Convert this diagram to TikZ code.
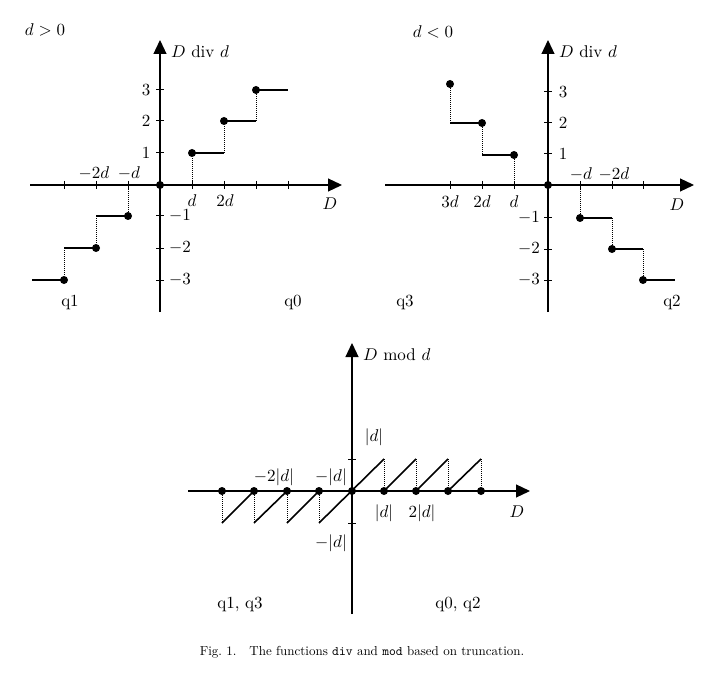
\documentclass[tikz,border=0pt]{standalone}
\usetikzlibrary{arrows.meta}
\begin{document}
\begin{tikzpicture}[x=1pt,y=-1pt,
  ax/.style={line width=1.2pt,-{Triangle[length=14pt,width=13pt]}},
  st/.style={line width=1.6pt},
  dt/.style={densely dotted,line width=1pt},
  dot/.style={circle,fill=black,inner sep=0pt,minimum size=8pt},
  lb/.style={scale=1.7,transform shape,inner sep=1pt},
  tk/.style={line width=1pt}]
\useasboundingbox (0,0) rectangle (720,679);
% ---------- top-left ----------
\coordinate (axl) at (30,185); \coordinate (axr) at (342,185);
\coordinate (ayb) at (160,312); \coordinate (ayt) at (160,40);
\draw[ax] (axl) -- (axr);
\draw[ax] (ayb) -- (ayt);
\foreach \x in {64,96,128,192,224,256,288} \draw[tk] (\x,181) -- (\x,189);
\foreach \y in {90,121,153,216,248,280} \draw[tk] (156,\y) -- (164,\y);
\node[lb] (t1) at (45,30) {$d>0$};
\node[lb,anchor=west] (t2) at (169,52) {$D$ div $d$};
\node[lb] at (146,90) {3}; \node[lb] at (146,121) {2}; \node[lb] at (146,153) {1};
\node[lb] at (180,216) {$-1$}; \node[lb] at (180,248) {$-2$}; \node[lb] at (180,280) {$-3$};
\node[lb] at (94,173) {$-2d$}; \node[lb] at (129,173) {$-d$};
\node[lb] at (192,201) {$d$}; \node[lb] at (225,201) {$2d$};
\node[lb] at (330,204) {$D$};
\node[lb] at (70,302) {q1}; \node[lb] at (293,302) {q0};
\node[dot] (o1) at (160,185) {};
\node[dot] (p1) at (192,153) {}; \node[dot] (p2) at (224,121) {}; \node[dot] (p3) at (256,90) {};
\node[dot] (n1) at (128,216) {}; \node[dot] (n2) at (96,248) {}; \node[dot] (n3) at (64,280) {};
\draw[st] (p1.center) -- (224,153); \draw[st] (p2.center) -- (256,121); \draw[st] (p3.center) -- (288,90);
\draw[dt] (192,185) -- (p1); \draw[dt] (224,153) -- (p2); \draw[dt] (256,121) -- (p3);
\draw[st] (n1.center) -- (96,216); \draw[st] (n2.center) -- (64,248); \draw[st] (n3.center) -- (32,280);
\draw[dt] (128,185) -- (n1); \draw[dt] (96,216) -- (n2); \draw[dt] (64,248) -- (n3);
% ---------- top-right ----------
\coordinate (bxl) at (385,185); \coordinate (bxr) at (694,185);
\coordinate (byb) at (548,312); \coordinate (byt) at (548,40);
\draw[ax] (bxl) -- (bxr);
\draw[ax] (byb) -- (byt);
\foreach \x in {450,482,514,580,612,643} \draw[tk] (\x,181) -- (\x,189);
\foreach \y in {92,123,154,218,249,280} \draw[tk] (544,\y) -- (552,\y);
\node[lb] at (433,32) {$d<0$};
\node[lb,anchor=west] at (557,52) {$D$ div $d$};
\node[lb] at (563,92) {3}; \node[lb] at (563,123) {2}; \node[lb] at (563,154) {1};
\node[lb] at (529,218) {$-1$}; \node[lb] at (529,249) {$-2$}; \node[lb] at (529,280) {$-3$};
\node[lb] at (581,174) {$-d$}; \node[lb] at (614,174) {$-2d$};
\node[lb] at (450,202) {$3d$}; \node[lb] at (482,202) {$2d$}; \node[lb] at (514,202) {$d$};
\node[lb] at (677,205) {$D$};
\node[lb] at (405,302) {q3}; \node[lb] at (672,302) {q2};
\node[dot] (o2) at (548,185) {};
\node[dot] (r3) at (450,84) {}; \node[dot] (r2) at (482,123) {}; \node[dot] (r1) at (514,155) {};
\node[dot] (m1) at (580,218) {}; \node[dot] (m2) at (612,249) {}; \node[dot] (m3) at (643,280) {};
\draw[dt] (r3) -- (450,123); \draw[st] (450,123) -- (r2.center);
\draw[dt] (r2) -- (482,155); \draw[st] (482,155) -- (r1.center);
\draw[dt] (r1) -- (514,185);
\draw[dt] (580,185) -- (m1); \draw[st] (m1.center) -- (612,218);
\draw[dt] (612,218) -- (m2); \draw[st] (m2.center) -- (643,249);
\draw[dt] (643,249) -- (m3); \draw[st] (m3.center) -- (675,280);
% ---------- bottom ----------
\coordinate (cxl) at (188,491); \coordinate (cxr) at (530,491);
\coordinate (cyb) at (352,614); \coordinate (cyt) at (352,343);
\draw[ax] (cxl) -- (cxr);
\draw[ax] (cyb) -- (cyt);
\draw[tk] (348,459) -- (356,459); \draw[tk] (348,523) -- (356,523);
\node[lb,anchor=west] at (361,355) {$D$ mod $d$};
\node[lb] at (374,437) {$|d|$};
\node[lb] at (274,477) {$-2|d|$}; \node[lb] at (331,477) {$-|d|$};
\node[lb] at (384,513) {$|d|$}; \node[lb] at (422,513) {$2|d|$};
\node[lb] at (331,543) {$-|d|$};
\node[lb] at (517,512) {$D$};
\node[lb] at (240,604) {q1, q3}; \node[lb] at (458,604) {q0, q2};
\foreach \x [count=\i] in {222,254,287,319} {
  \node[dot] (z\i) at (\x,491) {};
  \draw[dt] (z\i) -- (\x,523);
}
\foreach \x [count=\i] in {352,384,416,448,481} \node[dot] (w\i) at (\x,491) {};
\draw[st] (222,523) -- (z2.center);
\draw[st] (254,523) -- (z3.center);
\draw[st] (287,523) -- (z4.center);
\draw[st] (319,523) -- (384,459);
\draw[st] (w2.center) -- (416,459); \draw[st] (w3.center) -- (448,459); \draw[st] (w4.center) -- (481,459);
\draw[dt] (384,459) -- (w2); \draw[dt] (416,459) -- (w3); \draw[dt] (448,459) -- (w4); \draw[dt] (481,459) -- (w5);
\node[scale=1.3,transform shape] (cap) at (362,652) {Fig.\ 1.\quad The functions \texttt{div} and \texttt{mod} based on truncation.};
\end{tikzpicture}
\end{document}
